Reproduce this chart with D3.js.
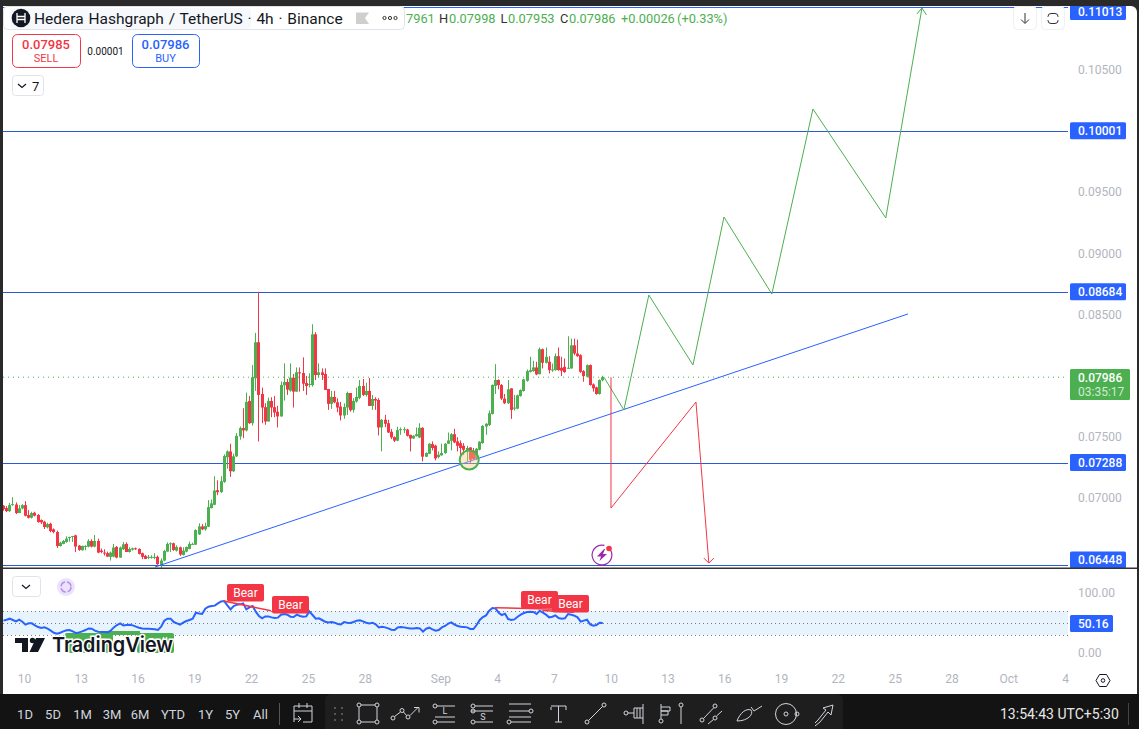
<!DOCTYPE html>
<html><head><meta charset="utf-8">
<script src="https://cdn.jsdelivr.net/npm/d3@7/dist/d3.min.js"></script>
<style>
html,body{margin:0;padding:0;background:#fff;overflow:hidden}
svg{display:block}
text{font-family:Roboto,"Liberation Sans",Arial,sans-serif}
</style></head><body>
<script>
const opens=[0.06935,0.06916,0.06891,0.06940,0.06945,0.06875,0.06913,0.06940,0.06859,0.06837,
0.06878,0.06859,0.06818,0.06804,0.06758,0.06788,0.06742,0.06720,0.06606,0.06623,
0.06639,0.06674,0.06682,0.06693,0.06609,0.06571,0.06601,0.06601,0.06647,0.06601,
0.06647,0.06568,0.06552,0.06547,0.06517,0.06519,0.06598,0.06511,0.06579,0.06623,
0.06557,0.06576,0.06587,0.06582,0.06547,0.06525,0.06511,0.06511,0.06511,0.06517,
0.06452,0.06487,0.06560,0.06623,0.06628,0.06568,0.06595,0.06533,0.06560,0.06582,
0.06620,0.06617,0.06701,0.06766,0.06742,0.06764,0.06916,0.06943,0.07062,0.07046,
0.07130,0.07331,0.07379,0.07217,0.07339,0.07502,0.07570,0.07551,0.07792,0.07610,
0.07977,0.08272,0.07849,0.07741,0.07624,0.07792,0.07741,0.07703,0.07665,0.07920,
0.07947,0.07876,0.07982,0.07868,0.08026,0.08020,0.07939,0.07925,0.07922,0.08337,
0.08004,0.08026,0.08012,0.07890,0.07768,0.07825,0.07781,0.07746,0.07673,0.07738,
0.07857,0.07719,0.07787,0.07817,0.07914,0.07841,0.07874,0.07751,0.07808,0.07800,
0.07575,0.07638,0.07610,0.07540,0.07496,0.07467,0.07553,0.07553,0.07558,0.07515,
0.07485,0.07504,0.07493,0.07572,0.07336,0.07360,0.07439,0.07426,0.07333,0.07347,
0.07366,0.07442,0.07466,0.07520,0.07461,0.07447,0.07425,0.07388,0.07412,0.07385,
0.07320,0.07393,0.07447,0.07583,0.07596,0.07686,0.07914,0.07963,0.07922,0.07811,
0.07773,0.07895,0.07729,0.07729,0.07832,0.07873,0.07957,0.08030,0.08036,0.08066,
0.08011,0.08215,0.08104,0.08112,0.08044,0.08044,0.08158,0.08063,0.08071,0.08058,
0.08058,0.08247,0.08180,0.08166,0.08036,0.07990,0.08085,0.07927,0.07903,0.07849,
0.07961];
const highs=[0.06940,0.06932,0.06959,0.07005,0.06962,0.06940,0.06948,0.06973,0.06899,0.06886,
0.06886,0.06867,0.06823,0.06812,0.06796,0.06796,0.06750,0.06731,0.06641,0.06655,
0.06685,0.06682,0.06688,0.06698,0.06614,0.06609,0.06612,0.06661,0.06661,0.06696,
0.06666,0.06585,0.06579,0.06560,0.06560,0.06623,0.06606,0.06601,0.06639,0.06636,
0.06595,0.06593,0.06593,0.06587,0.06552,0.06533,0.06533,0.06530,0.06547,0.06528,
0.06506,0.06574,0.06636,0.06636,0.06633,0.06612,0.06601,0.06595,0.06601,0.06641,
0.06633,0.06742,0.06791,0.06785,0.06796,0.06981,0.06986,0.07176,0.07143,0.07176,
0.07355,0.07388,0.07442,0.07360,0.07529,0.07583,0.07732,0.07860,0.07833,0.08085,
0.08348,0.08684,0.07901,0.07773,0.07819,0.07822,0.07833,0.07752,0.07950,0.08099,
0.07971,0.08099,0.08012,0.08066,0.08066,0.08148,0.07996,0.08017,0.08419,0.08354,
0.08099,0.08058,0.08058,0.07890,0.07874,0.07874,0.07814,0.07784,0.07773,0.07868,
0.07857,0.07814,0.07901,0.07963,0.07971,0.07941,0.07979,0.07841,0.07822,0.07814,
0.07643,0.07678,0.07638,0.07562,0.07502,0.07581,0.07575,0.07577,0.07564,0.07515,
0.07512,0.07575,0.07610,0.07577,0.07371,0.07447,0.07461,0.07434,0.07379,0.07442,
0.07447,0.07534,0.07529,0.07564,0.07496,0.07469,0.07447,0.07425,0.07412,0.07407,
0.07407,0.07463,0.07594,0.07610,0.07713,0.07927,0.08093,0.07968,0.07930,0.07849,
0.07963,0.07895,0.07841,0.07843,0.07887,0.07973,0.08049,0.08153,0.08120,0.08112,
0.08229,0.08220,0.08229,0.08158,0.08098,0.08180,0.08229,0.08153,0.08139,0.08321,
0.08302,0.08302,0.08294,0.08174,0.08044,0.08090,0.08090,0.07935,0.07908,0.07968,
0.07998];
const lows=[0.06894,0.06883,0.06883,0.06935,0.06867,0.06875,0.06905,0.06848,0.06831,0.06831,
0.06848,0.06796,0.06785,0.06745,0.06750,0.06718,0.06709,0.06590,0.06601,0.06620,
0.06633,0.06641,0.06639,0.06557,0.06566,0.06568,0.06571,0.06595,0.06595,0.06595,
0.06547,0.06547,0.06528,0.06517,0.06487,0.06514,0.06506,0.06509,0.06574,0.06557,
0.06552,0.06568,0.06574,0.06536,0.06498,0.06498,0.06498,0.06503,0.06498,0.06452,
0.06424,0.06481,0.06560,0.06557,0.06566,0.06560,0.06525,0.06528,0.06555,0.06579,
0.06617,0.06614,0.06696,0.06736,0.06731,0.06761,0.06913,0.06940,0.07021,0.07040,
0.07122,0.07238,0.07171,0.07211,0.07334,0.07475,0.07488,0.07543,0.07605,0.07591,
0.07874,0.07461,0.07610,0.07597,0.07624,0.07659,0.07659,0.07575,0.07665,0.07795,
0.07841,0.07868,0.07738,0.07868,0.07868,0.07874,0.07841,0.07903,0.07909,0.07963,
0.07985,0.07963,0.07882,0.07719,0.07727,0.07773,0.07700,0.07632,0.07646,0.07678,
0.07705,0.07697,0.07779,0.07806,0.07833,0.07827,0.07751,0.07719,0.07719,0.07510,
0.07380,0.07578,0.07529,0.07480,0.07456,0.07464,0.07515,0.07529,0.07501,0.07379,
0.07483,0.07501,0.07488,0.07298,0.07333,0.07358,0.07388,0.07306,0.07322,0.07344,
0.07360,0.07442,0.07388,0.07447,0.07379,0.07352,0.07352,0.07298,0.07279,0.07311,
0.07311,0.07388,0.07442,0.07515,0.07588,0.07681,0.07849,0.07887,0.07800,0.07767,
0.07767,0.07645,0.07713,0.07724,0.07827,0.07868,0.07949,0.08025,0.08030,0.08003,
0.08009,0.08058,0.08098,0.08017,0.08030,0.08039,0.08039,0.07995,0.08022,0.08055,
0.08055,0.08166,0.08153,0.08022,0.07949,0.07984,0.07917,0.07868,0.07843,0.07843,
0.07953];
const closes=[0.06907,0.06891,0.06940,0.06948,0.06875,0.06913,0.06940,0.06853,0.06837,0.06875,
0.06853,0.06802,0.06799,0.06761,0.06785,0.06728,0.06720,0.06606,0.06633,0.06647,
0.06666,0.06679,0.06688,0.06601,0.06574,0.06606,0.06606,0.06647,0.06601,0.06647,
0.06552,0.06557,0.06544,0.06519,0.06552,0.06593,0.06511,0.06593,0.06620,0.06557,
0.06582,0.06587,0.06579,0.06541,0.06517,0.06500,0.06517,0.06517,0.06517,0.06457,
0.06487,0.06565,0.06623,0.06628,0.06574,0.06598,0.06536,0.06568,0.06598,0.06623,
0.06623,0.06736,0.06766,0.06742,0.06769,0.06924,0.06954,0.07059,0.07046,0.07135,
0.07341,0.07379,0.07217,0.07339,0.07507,0.07570,0.07551,0.07784,0.07610,0.07985,
0.08272,0.07841,0.07738,0.07624,0.07792,0.07738,0.07697,0.07665,0.07922,0.07947,
0.07884,0.07982,0.07868,0.08026,0.08017,0.07933,0.07914,0.07931,0.08337,0.08004,
0.08026,0.08004,0.07882,0.07768,0.07825,0.07781,0.07738,0.07673,0.07743,0.07857,
0.07716,0.07792,0.07825,0.07914,0.07841,0.07874,0.07751,0.07808,0.07795,0.07575,
0.07638,0.07605,0.07534,0.07494,0.07467,0.07553,0.07561,0.07561,0.07507,0.07485,
0.07507,0.07520,0.07572,0.07336,0.07366,0.07442,0.07407,0.07322,0.07352,0.07366,
0.07442,0.07469,0.07520,0.07453,0.07425,0.07407,0.07393,0.07407,0.07311,0.07317,
0.07401,0.07458,0.07588,0.07605,0.07691,0.07922,0.07963,0.07922,0.07811,0.07773,
0.07887,0.07718,0.07738,0.07838,0.07881,0.07968,0.08036,0.08044,0.08066,0.08009,
0.08215,0.08104,0.08153,0.08044,0.08049,0.08158,0.08044,0.08039,0.08028,0.08063,
0.08247,0.08180,0.08158,0.08030,0.07995,0.08085,0.07922,0.07895,0.07849,0.07963,
0.07986];
const rsiValues=[54,55.5,57.2,55,52.7,55.5,52.2,47.2,49.4,49.4,
46,43.3,41.6,42.7,40.5,37.2,33.8,32.2,33.8,36,
37.8,38.3,36,33.3,34.4,36,38.3,41,40.5,37.2,
35.5,35,35,34.4,37.2,42.7,46.6,49.4,46,46.6,
47.2,46,43.9,42.2,41,40.5,40.5,40,39.4,38.3,
43.9,53.8,57.2,57.2,51.6,49.4,47.2,50.5,53.3,55,
57.2,67.2,66,65,73.9,77.2,78.3,78.9,82.7,86,
86.6,79.4,72.7,78.3,80.5,81.1,82.7,72.7,76,78.3,
68.9,61.6,57.7,61,61,59.4,58.3,58.9,63.9,65,
63.9,60.5,60,63.9,61.6,60.5,61,69.4,63.3,57.2,
57.8,55,52.2,51,51.6,50.5,48.3,47.7,51.6,50.5,
50,51.6,53.9,54.4,52.7,50.5,49.4,50.5,47.7,42.7,
43.9,42.7,41,38.8,38.3,42.7,43.3,42.7,41.6,41,
41,41.6,41,35.5,40.5,42.2,39.4,37.2,38.3,42.7,
45,48.9,51,47.2,45,43.9,43.3,42.7,40,40,
46.6,55,60,62.7,70.5,75,74.4,67.2,63.3,65.5,
56.6,55,56,60.5,63.9,66.6,68.3,68.9,68.3,65,
70.5,67.2,63.9,59.4,60.5,62.7,58.3,57.2,57.8,65,
63.9,62.2,59.4,52.2,53.9,55.5,47.7,45.5,46.6,50.5,
50.16];
const levelPrices=[0.11013,0.10001,0.08684,0.07288,0.06448];
const priceTicks=[0.105,0.095,0.09,0.085,0.075,0.07];
const rsiTicks=[100,0];
const rsiBands=[70,50,30];
const lastPrice=0.07986;
const countdown="03:35:17";
const lastBarTime="2024-09-09T12:00:00Z";
const tickDates=["2024-08-10","2024-08-13","2024-08-16","2024-08-19","2024-08-22","2024-08-25","2024-08-28","2024-09-01","2024-09-04","2024-09-07","2024-09-10","2024-09-13","2024-09-16","2024-09-19","2024-09-22","2024-09-25","2024-09-28","2024-10-01","2024-10-04"];
const tickLabels=["10","13","16","19","22","25","28","Sep","4","7","10","13","16","19","22","25","28","Oct","4"];
// hand drawings: days after 10 Aug, and price
const greenDays=[30.59,31.64,32.96,35.29,36.93,39.46,41.63,45.48,47.39];
const greenPrices=[0.07986,0.07718,0.08658,0.08086,0.09296,0.08666,0.10179,0.09288,0.11005];
const redDays=[30.96,30.96,35.45,36.13];
const redPrices=[0.07986,0.06916,0.07783,0.06466];
const trendDays=[6.87,46.65];
const trendPrices=[0.06434,0.08503];
const circleDay=23.47, circlePrice=0.07309;
// RSI divergence tags: bar number of line start/end, rsi value of start/end
const bearFrom=[[70,86.6],[156,75.5],[171,71]];
const timeframes=["1D","5D","1M","3M","6M","YTD","1Y","5Y","All"];

const W=1139,H=729,PL=3,PR=1068;
const svg=d3.select("body").append("svg").attr("width",W).attr("height",H);
const t0=new Date("2024-08-10T00:00:00Z"),t1=new Date("2024-10-04T00:00:00Z");
const x=d3.scaleUtc().domain([t0,t1]).range([25,1066]);
const y=d3.scaleLinear().domain([0.11013,0.06448]).range([7,565.3]);
const yR=d3.scaleLinear().domain([0,100]).range([653,593]);
const dayDate=d=>new Date(+t0+d*864e5);
const last=new Date(lastBarTime);
const N=closes.length;
const barTime=i=>new Date(+last-(N-1-i)*4*36e5);
const fmt=d3.format(".5f");
const GREEN="#4caf50",RED="#f23645",BLUE="#2962ff",GREY="#b2b5be";

svg.append("rect").attr("width",W).attr("height",H).attr("fill","#fff");
const defs=svg.append("defs");
defs.append("clipPath").attr("id","main").append("rect").attr("x",PL).attr("y",0).attr("width",PR-PL).attr("height",568);
const main=svg.append("g").attr("clip-path","url(#main)");

// last price dotted line
main.append("line").attr("x1",PL).attr("x2",PR).attr("y1",y(lastPrice)).attr("y2",y(lastPrice))
 .attr("stroke",GREEN).attr("stroke-dasharray","1 4");
// level lines
main.selectAll(".lvl").data(levelPrices).join("line").attr("x1",PL).attr("x2",PR)
 .attr("y1",d=>Math.round(y(d))+.5).attr("y2",d=>Math.round(y(d))+.5).attr("stroke","#2a5bd7");
// candles
const idx=d3.range(N);
const cx=i=>Math.round(x(barTime(i)));
main.selectAll(".wick").data(idx).join("rect")
 .attr("x",i=>cx(i)).attr("width",1)
 .attr("y",i=>y(highs[i])).attr("height",i=>y(lows[i])-y(highs[i]))
 .attr("fill",i=>closes[i]>=opens[i]?GREEN:RED);
main.selectAll(".body").data(idx).join("rect")
 .attr("x",i=>cx(i)-1).attr("width",3)
 .attr("y",i=>y(Math.max(opens[i],closes[i])))
 .attr("height",i=>Math.max(1,Math.abs(y(opens[i])-y(closes[i]))))
 .attr("fill",i=>closes[i]>=opens[i]?GREEN:RED);
// trend + zigzags
const ln=d3.line().x(d=>x(dayDate(d[0]))).y(d=>y(d[1]));
main.append("path").attr("d",ln(d3.zip(trendDays,trendPrices))).attr("fill","none").attr("stroke",BLUE).attr("stroke-width",1);
main.append("path").attr("d",ln(d3.zip(greenDays,greenPrices))).attr("fill","none").attr("stroke",GREEN).attr("stroke-width",1);
main.append("path").attr("d",ln(d3.zip(redDays,redPrices))).attr("fill","none").attr("stroke",RED).attr("stroke-width",1);
const gx=x(dayDate(greenDays[8])),gy=y(greenPrices[8]);
main.append("path").attr("d",`M${gx-5},${gy+6}L${gx},${gy}L${gx+4.5},${gy+7}`).attr("fill","none").attr("stroke",GREEN);
const rx=x(dayDate(redDays[3])),ry=y(redPrices[3]);
main.append("path").attr("d",`M${rx-5},${ry-5}L${rx},${ry}L${rx+5},${ry-5}`).attr("fill","none").attr("stroke",RED);
// circle
main.append("circle").attr("cx",x(dayDate(circleDay))).attr("cy",y(circlePrice)).attr("r",9.5)
 .attr("fill","rgba(250,200,130,.4)").attr("stroke",GREEN).attr("stroke-width",2);
// bolt icon
const bolt=svg.append("g").attr("transform","translate(602,555)");
bolt.append("path").attr("d",d3.arc()({innerRadius:9.3,outerRadius:10.5,startAngle:.75,endAngle:Math.PI*2+.25})).attr("fill","#9c27b0");
bolt.append("path").attr("d","M2,-6L-5,1.5L-1,1.5L-2.5,6L5,-1L1,-1L3,-6Z").attr("fill","#9c27b0");
bolt.append("circle").attr("cx",7).attr("cy",-6.5).attr("r",2.8).attr("fill",RED);

// price axis
const pa=svg.append("g").attr("transform","translate(1078,0)").call(d3.axisRight(y).tickValues(priceTicks).tickFormat(fmt).tickSize(0).tickPadding(0));
pa.select(".domain").remove();
pa.selectAll("text").attr("fill",GREY).style("font-size","12px");

// tags
function tag(v,txt,cy,w,col,sub){
 const h=sub?31:17;
 svg.append("rect").attr("x",1070).attr("y",cy-(sub?9:8.5)).attr("width",w).attr("height",h).attr("rx",1.5).attr("fill",col);
 svg.append("text").attr("x",1078).attr("y",cy+4.3).attr("fill","#fff").style("font-size","12px").style("font-weight",500).text(txt);
 if(sub)svg.append("text").attr("x",1078).attr("y",cy+17.5).attr("fill","#fff").attr("fill-opacity",.75).style("font-size","12px").text(sub);
}
levelPrices.forEach(p=>{
 const cy=Math.max(11.5,Math.min(560,y(p)));
 tag(p,fmt(p),cy,56,BLUE);
});
tag(lastPrice,fmt(lastPrice),378,60,GREEN,countdown);

// separator pane
svg.append("rect").attr("x",PL).attr("y",567.5).attr("width",1134).attr("height",1.5).attr("fill","#333");

// RSI pane
svg.append("rect").attr("x",PL).attr("width",PR-PL).attr("y",yR(70)).attr("height",yR(30)-yR(70)).attr("fill","#e7f3fd");
svg.selectAll(".band").data(rsiBands).join("line").attr("x1",PL).attr("x2",PR)
 .attr("y1",d=>yR(d)+.5).attr("y2",d=>yR(d)+.5).attr("stroke","#787b86").attr("stroke-dasharray","1 3");
// bull tags behind the logo
svg.append("rect").attr("x",65).attr("y",633).attr("width",48).attr("height",20).attr("rx",2).attr("fill",GREEN);
svg.append("rect").attr("x",137).attr("y",633).attr("width",37).attr("height",20).attr("rx",2).attr("fill",GREEN);
svg.append("rect").attr("x",100).attr("y",631).attr("width",40).attr("height",4).attr("fill",GREEN);
svg.append("text").attr("x",148).attr("y",647).attr("fill","#fff").style("font-size","12px").text("Bull");
svg.append("path").attr("d",d3.line().x(i=>x(barTime(i))+.5).y(i=>yR(rsiValues[i])).curve(d3.curveLinear)(idx))
 .attr("fill","none").attr("stroke",BLUE).attr("stroke-width",2);
// bear divergence
function bear(a,b,rsiA,rsiB){
 svg.append("line").attr("x1",x(barTime(a))).attr("y1",yR(rsiA)).attr("x2",x(barTime(b))).attr("y2",yR(rsiB)).attr("stroke",RED).attr("stroke-width",1.5);
}
bear(70,85,bearFrom[0][1],70.5);
bear(156,175,bearFrom[1][1],73);
bear(171,181,bearFrom[2][1],68);
function bearTag(bx,by,w){
 svg.append("rect").attr("x",bx).attr("y",by).attr("width",w).attr("height",17.5).attr("rx",2).attr("fill",RED);
 svg.append("text").attr("x",bx+w/2).attr("y",by+13).attr("text-anchor","middle").attr("fill","#fff").style("font-size","12px").text("Bear");
}
bearTag(227,584,37);bearTag(272,596,37);bearTag(552,595,37);bearTag(521,591,37);
const ra=svg.append("g").attr("transform","translate(1078,0)").call(d3.axisRight(yR).tickValues(rsiTicks).tickFormat(d3.format(".2f")).tickSize(0).tickPadding(0));
ra.select(".domain").remove();ra.selectAll("text").attr("fill",GREY).style("font-size","12px");
svg.append("rect").attr("x",1070).attr("y",615).attr("width",43).attr("height",17).attr("rx",1.5).attr("fill",BLUE);
svg.append("text").attr("x",1078).attr("y",627.5).attr("fill","#fff").style("font-size","12px").style("font-weight",500).text(d3.format(".2f")(rsiValues[N-1]));

// pane buttons
svg.append("rect").attr("x",12.5).attr("y",576.5).attr("width",28).attr("height",20).attr("rx",3).attr("fill","#fff").attr("stroke","#e0e3eb");
svg.append("path").attr("d","M22,585l4,3.5l4,-3.5").attr("fill","none").attr("stroke","#131722").attr("stroke-width",1.2);
svg.append("circle").attr("cx",66).attr("cy",587).attr("r",9).attr("fill","#ece3fb");
svg.append("circle").attr("cx",66).attr("cy",587).attr("r",5).attr("fill","none").attr("stroke","#b48ef0").attr("stroke-width",1.5).attr("stroke-dasharray","6 2");

// TV logo
const logo=svg.append("g");
logo.append("text").attr("x",52).attr("y",651.5).attr("fill","#131722").attr("stroke","#fff").attr("stroke-width",3).attr("paint-order","stroke")
 .style("font-size","20.5px").style("font-weight",600).style("font-family","Inter,Roboto,sans-serif").attr("textLength",121).attr("lengthAdjust","spacingAndGlyphs").text("TradingView");
logo.append("path").attr("d","M15,638H28V652H22V643H15ZM36,638H45L38,652H29.5Z").attr("fill","#131722");
logo.append("circle").attr("cx",32.5).attr("cy",640.5).attr("r",2.7).attr("fill","#131722");

// time axis
const ta=svg.append("g").attr("transform","translate(-1,674)")
 .call(d3.axisBottom(x).tickValues(tickDates.map(d=>new Date(d+"T00:00:00Z"))).tickFormat((d,i)=>tickLabels[i]).tickSize(0).tickPadding(0));
ta.select(".domain").remove();ta.selectAll("text").attr("fill",GREY).style("font-size","12px");
const gear=svg.append("g").attr("transform","translate(1103,680.5)");
gear.append("path").attr("d","M-7,0L-3.5,-6H3.5L7,0L3.5,6H-3.5Z").attr("fill","none").attr("stroke","#131722");
gear.append("circle").attr("r",1.8).attr("fill","none").attr("stroke","#131722");

// header
const hdr=svg.append("g");
hdr.append("rect").attr("x",405).attr("y",7).attr("width",663).attr("height",1).attr("fill",BLUE);
hdr.append("rect").attr("x",3.5).attr("y",6.5).attr("width",401).attr("height",23).attr("rx",4).attr("fill","#fff").attr("stroke","#e0e3eb");
hdr.append("rect").attr("x",10).attr("y",8).attr("width",241).attr("height",21).attr("rx",4).attr("fill","#f0f3fa").attr("fill-opacity",.6);
hdr.append("circle").attr("cx",21).attr("cy",18).attr("r",9.3).attr("fill","#131722");
hdr.append("path").attr("d","M17,13V23M25,13V23M17,16.5H25M17,19.5H25").attr("stroke","#fff").attr("stroke-width",1.3).attr("fill","none");
hdr.append("text").attr("x",34).attr("y",23.5).attr("fill","#131722").style("font-size","15.5px").style("word-spacing","1px").text("Hedera Hashgraph / TetherUS · 4h · Binance");
hdr.append("path").attr("d","M356,12.5H369L365,18L369,24H356Z").attr("fill","#cfcfcf");
[384.5,390,395.5].forEach(cx=>hdr.append("circle").attr("cx",cx).attr("cy",18).attr("r",1.6).attr("fill","none").attr("stroke","#333"));
const ohlc=[[406,"7961",GREEN],[439,"H","#333"],[449,"0.07998",GREEN],[500.5,"L","#333"],[508,"0.07953",GREEN],[560,"C","#333"],[569,"0.07986",GREEN],[621,"+0.00026",GREEN],[677,"(+0.33%)",GREEN]];
ohlc.forEach(d=>hdr.append("text").attr("x",d[0]).attr("y",23).attr("fill",d[2]).style("font-size","12.8px").text(d[1]));
// buy/sell
function btn(bx,w,col,v,lbl){
 hdr.append("rect").attr("x",bx+.5).attr("y",34.5).attr("width",w).attr("height",33).attr("rx",5).attr("fill","#fff").attr("stroke",col);
 hdr.append("text").attr("x",bx+w/2).attr("y",49).attr("text-anchor","middle").attr("fill",col).style("font-size","13px").style("font-weight",500).text(v);
 hdr.append("text").attr("x",bx+w/2).attr("y",62).attr("text-anchor","middle").attr("fill",col).style("font-size","11px").text(lbl);
}
btn(12,68,RED,"0.07985","SELL");
btn(132,67,BLUE,"0.07986","BUY");
hdr.append("text").attr("x",105.5).attr("y",55).attr("text-anchor","middle").attr("fill","#131722").style("font-size","10px").text("0.00001");
hdr.append("rect").attr("x",12.5).attr("y",75.5).attr("width",31).attr("height",20).attr("rx",3).attr("fill","#fff").attr("stroke","#e0e3eb");
hdr.append("path").attr("d","M18,84l4,3.5l4,-3.5").attr("fill","none").attr("stroke","#131722").attr("stroke-width",1.2);
hdr.append("text").attr("x",32).attr("y",90.5).attr("fill","#131722").style("font-size","13px").text("7");
// top right
[1013.5,1041.5].forEach(bx=>hdr.append("rect").attr("x",bx).attr("y",6.5).attr("width",23).attr("height",23).attr("rx",4).attr("fill","#fff").attr("stroke","#eef0f3"));
hdr.append("path").attr("d","M1025,13V23M1021,19.5L1025,23.5L1029,19.5").attr("fill","none").attr("stroke","#333");
hdr.append("rect").attr("x",1048).attr("y",13.5).attr("width",10).attr("height",10).attr("rx",3).attr("fill","none").attr("stroke","#333");
hdr.append("path").attr("d","M1046,18.5H1060").attr("stroke","#fff").attr("stroke-width",3);

// bottom toolbar
const bar=svg.append("g");
bar.append("rect").attr("x",0).attr("y",694).attr("width",W).attr("height",35).attr("fill","#131313");
bar.append("path").attr("d","M325,729V700a6,6,0,0,1,6,-6H837a6,6,0,0,1,6,6V729Z").attr("fill","#1e1e1e");
const tfX=[25,53,82.5,112,140,173,205.5,232.5,260.5];
timeframes.forEach((t,i)=>bar.append("text").attr("x",tfX[i]).attr("y",719).attr("text-anchor","middle").attr("fill","#d1d4dc").style("font-size","13px").text(t));
bar.append("rect").attr("x",279).attr("y",703).attr("width",1).attr("height",22).attr("fill","#555");
bar.append("rect").attr("x",1128).attr("y",703).attr("width",1).attr("height",22).attr("fill","#444");
bar.append("text").attr("x",1000).attr("y",719).attr("fill","#e8e8e8").style("font-size","14px").text("13:54:43 UTC+5:30");
const ic=bar.append("g").attr("fill","none").attr("stroke","#d1d4dc").attr("stroke-width",1);
const icons=["M294,706H312V722H303M294,722V706M299,703V708M307,703V708M294,711H312M294,719H301M298,716L301,719L298,722",
"M361,705H375M361,722H375M359,707V720M377,707V720",
"M394.5,716.5L400.5,712M403.5,712L406.5,715.5M410,715.5L418,707.5M414,707.5H419V712.5",
"M437,706H455M435,717H455M437,722H455",
"M475,706H493M471,711H493M475,722H493",
"M509,704H531M509,711H529M509,717H531M511,722H531",
"M551,707V710M551,706H566V710M558.5,706V722M555,722H562",
"M588.5,720.5L602.5,706.5",
"M628,713H634M634,713V708H643M634,713V718H643M637,708V718M640,708V718M643,704V724",
"M661,719V704M661,707H670V711H661M661,711H668V715H661M681,707V724",
"M703.5,718.5L713.5,708M708,724L713.5,719.5M716.5,716L722,711",
"M737,721C740,713 746,708 751,710C754,714 748,721 737,721ZM751,707L754,711L762,706",
"M815,723L818,720M818,720L826,710L823,708L833,705L831,715L828,712L820,722L815,726"];
icons.forEach(d=>ic.append("path").attr("d",d));
[[359,705],[377,705],[359,722],[377,722],[393,718],[402,710.5],[408,717],[435,706],[435,722],[473,711],[473,722],[473,706],[531,711],[509,722],[587,722],[604,705],[626,713],[661,721],[681,705],[715,706],[702,720],[715,718],[786,714,2],[797,714]].forEach(c=>ic.append("circle").attr("cx",c[0]).attr("cy",c[1]).attr("r",c[2]||2));
ic.append("circle").attr("cx",786).attr("cy",714).attr("r",10.5);
const tlbl=[[445,714,"L"],[483,720,"S"]];
tlbl.forEach(t=>bar.append("text").attr("x",t[0]).attr("y",t[1]).attr("text-anchor","middle").attr("fill","#d1d4dc").style("font-size","9px").text(t[2]));
bar.selectAll(".dots").data(d3.range(6)).join("rect").attr("x",i=>334+(i%2)*7).attr("y",i=>707+Math.floor(i/2)*6).attr("width",2).attr("height",2).attr("fill","#555");

// frame
const fr=svg.append("g").attr("fill","#2a2a2a");
fr.append("rect").attr("width",W).attr("height",6);
fr.append("rect").attr("width",3).attr("height",694);
fr.append("rect").attr("x",1137).attr("width",2).attr("height",694);
fr.append("path").attr("d","M1131,6H1137V12A6,6,0,0,0,1131,6Z");
</script>
</body></html>
